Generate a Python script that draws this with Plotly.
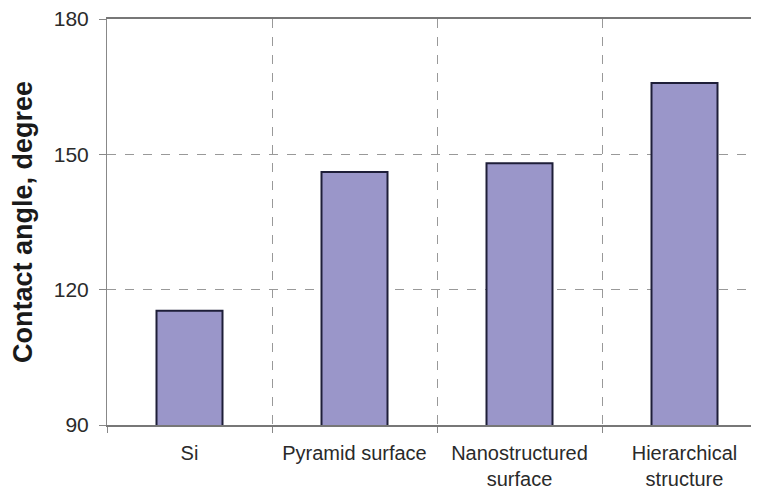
import plotly.graph_objects as go

categories = ["Si", "Pyramid surface", "Nanostructured<br>surface", "Hierarchical<br>structure"]
contact_angle = [115.3, 146.1, 148.0, 165.8]
y_ticks = [90, 120, 150, 180]

fig = go.Figure(go.Bar(
    x=categories, y=contact_angle, width=0.4,
    marker=dict(color="#9a96c9", line=dict(color="#1e1e38", width=2)),
))

# the page has an 8px body margin, so margins are offset accordingly
fig.update_layout(
    width=759, height=493,
    margin=dict(l=99, r=0, t=11, b=76),
    paper_bgcolor="white", plot_bgcolor="white",
    showlegend=False,
    font=dict(family="Liberation Sans, Arial, sans-serif", color="#2a2a2a"),
)
fig.update_xaxes(
    range=[-0.5, 3.5], tickson="boundaries", automargin=False,
    showgrid=True, gridcolor="#999999", griddash="dash", gridwidth=1,
    showline=True, linecolor="#777777", linewidth=1.5, mirror=True,
    ticks="outside", ticklen=6, tickcolor="#888888",
    tickfont=dict(size=20, color="#2a2a2a"), ticklabelstandoff=9,
    ticklabeloverflow="allow",
)
fig.update_yaxes(
    range=[90, 180], tickvals=y_ticks, automargin=False,
    showgrid=True, gridcolor="#999999", griddash="dash", gridwidth=1,
    showline=True, linecolor="#888888", linewidth=1,
    ticks="outside", ticklen=7, tickcolor="#888888",
    tickfont=dict(size=21, color="#2a2a2a"), ticklabelstandoff=6,
    ticklabeloverflow="allow",
    title=dict(text="<b>Contact angle, degree</b>", font=dict(size=27, color="#1a1a1a"), standoff=14),
    zeroline=False,
)

fig.write_html("out.html")
